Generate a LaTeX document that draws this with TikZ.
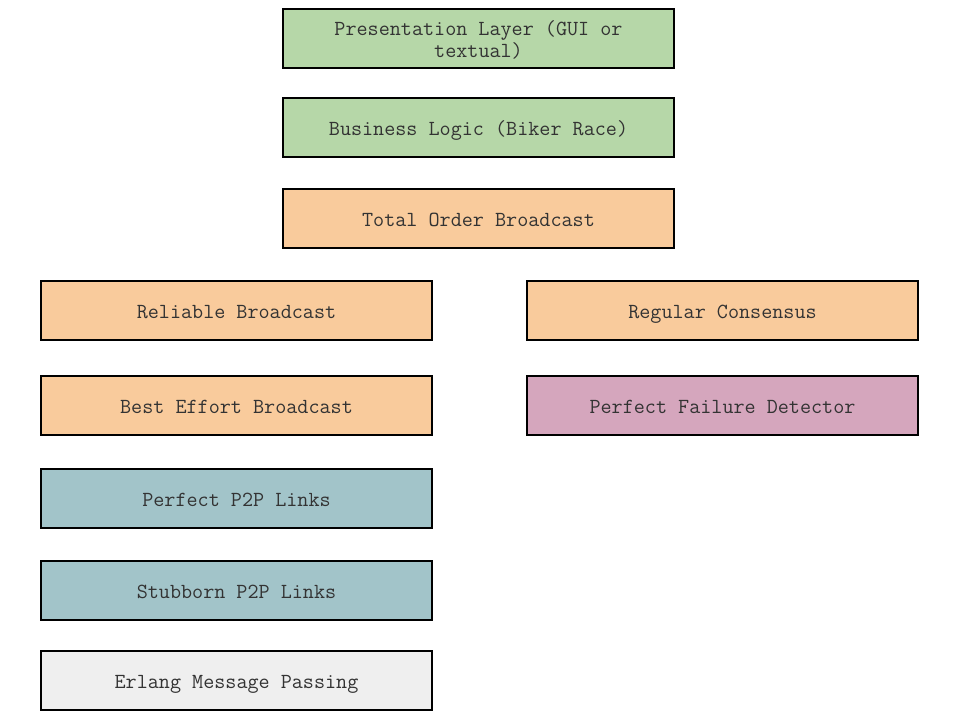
\documentclass[tikz,border=0pt]{standalone}
\usepackage{fontspec}
\usetikzlibrary{positioning}

\definecolor{layergreen}{HTML}{B6D7A8}
\definecolor{layerorange}{HTML}{F9CB9C}
\definecolor{layerpink}{HTML}{D5A6BD}
\definecolor{layerblue}{HTML}{A2C4C9}
\definecolor{layergray}{HTML}{EFEFEF}
\definecolor{layertext}{HTML}{333333}

\begin{document}
\begin{tikzpicture}[
    x=0.025cm, y=-0.025cm,
    layer/.style={draw, line width=1pt, minimum width=9.775cm, minimum height=1.475cm, align=center,
        font=\ttfamily\fontsize{15.3}{15.6}\selectfont, text=layertext, inner sep=0pt,
        text height=12pt, text depth=0pt}
]
\useasboundingbox (0,0) rectangle (960,720);

% top stack
\node[layer, fill=layergreen, text height=27.6pt] (pres) at (478.5,38.5) {Presentation Layer (GUI or\\textual)};
\node[layer, fill=layergreen] (logic) at (478.5,127.5) {Business Logic (Biker Race)};
\node[layer, fill=layerorange] (tob) at (478.5,218.5) {Total Order Broadcast};

% left column
\node[layer, fill=layerorange] (rb) at (236.5,310.5) {Reliable Broadcast};
\node[layer, fill=layerorange] (beb) at (236.5,405.5) {Best Effort Broadcast};
\node[layer, fill=layerblue] (pl) at (236.5,498.5) {Perfect P2P Links};
\node[layer, fill=layerblue] (sl) at (236.5,590.5) {Stubborn P2P Links};
\node[layer, fill=layergray] (erl) at (236.5,680.5) {Erlang Message Passing};

% right column
\node[layer, fill=layerorange] (rc) at (722.5,310.5) {Regular Consensus};
\node[layer, fill=layerpink] (pfd) at (722.5,405.5) {Perfect Failure Detector};
\end{tikzpicture}
\end{document}
